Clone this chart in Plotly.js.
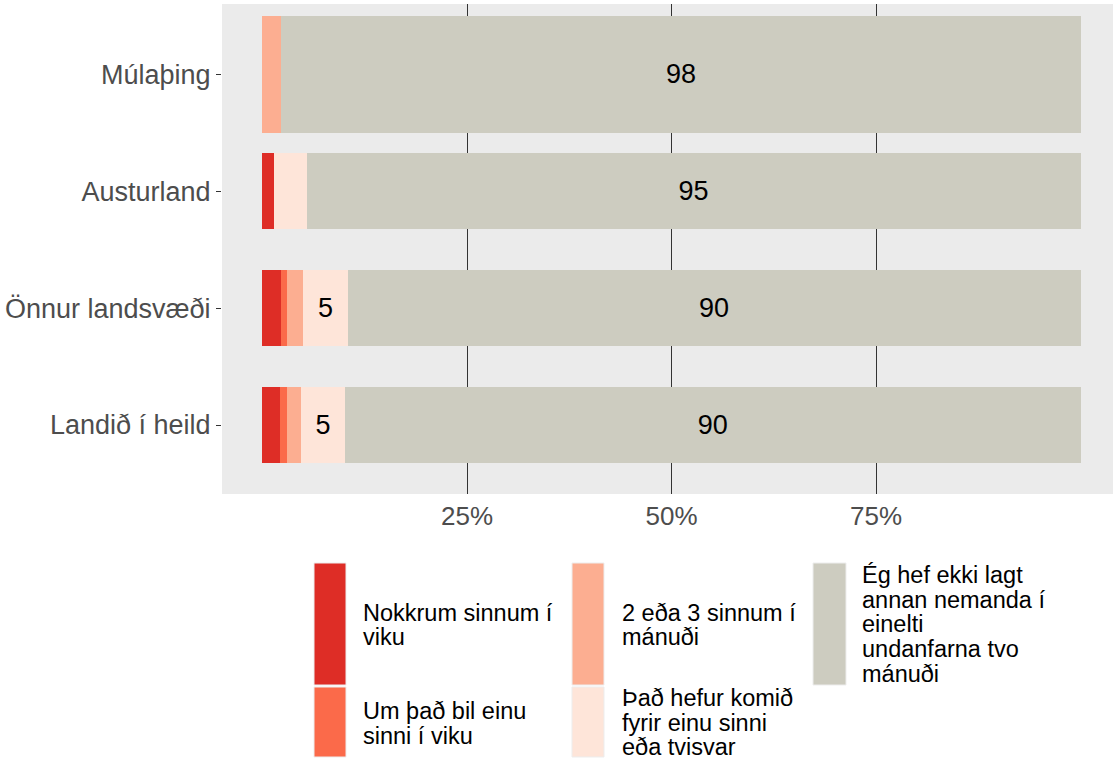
<!DOCTYPE html>
<html>
<head>
<meta charset="utf-8">
<script src="https://cdn.plot.ly/plotly-3.0.1.min.js"></script>
<style>
  html, body { margin: 0; padding: 0; background: #ffffff; }
  #chart { width: 1113px; height: 760px; }
</style>
</head>
<body>
<div id="chart"></div>
<script>
// ---- data ----
const categories = ['Múlaþing', 'Austurland', 'Önnur landsvæði', 'Landið í heild'];
const responses = [
  'Nokkrum sinnum í viku',
  'Um það bil einu sinni í viku',
  '2 eða 3 sinnum í mánuði',
  'Það hefur komið fyrir einu sinni eða tvisvar',
  'Ég hef ekki lagt annan nemanda í einelti undanfarna tvo mánuði'
];
const nokkrumSinnum = [0, 1.4, 2.3, 2.1];
const umThadBil = [0, 0, 0.7, 0.9];
const tvoEdaThrju = [2.3, 0, 2.0, 1.7];
const einuSinniTvisvar = [0, 4.0, 5.4, 5.4];
const ekkiLagt = [97.7, 94.6, 89.6, 89.9];
const xTickVals = [25, 50, 75];
const xTickText = ['25%', '50%', '75%'];
const legendLines = [
  ['Nokkrum sinnum í', 'viku'],
  ['Um það bil einu', 'sinni í viku'],
  ['2 eða 3 sinnum í', 'mánuði'],
  ['Það hefur komið', 'fyrir einu sinni', 'eða tvisvar'],
  ['Ég hef ekki lagt', 'annan nemanda í', 'einelti', 'undanfarna tvo', 'mánuði']
];

// ---- styles ----
const colors = ['#DE2D26', '#FB6A4A', '#FCAE91', '#FEE5D9', '#CDCCC0'];
const barWidths = [1.0, 0.65, 0.65, 0.65];
const FONT = 'Liberation Sans, Arial, Helvetica, sans-serif';

const series = [nokkrumSinnum, umThadBil, tvoEdaThrju, einuSinniTvisvar, ekkiLagt];

const traces = series.map((vals, i) => ({
  type: 'bar',
  orientation: 'h',
  name: responses[i],
  y: categories,
  x: vals,
  width: barWidths,
  marker: { color: colors[i], line: { width: 0 } },
  text: vals.map(v => v >= 5 ? String(Math.round(v)) : ''),
  textposition: 'inside',
  insidetextanchor: 'middle',
  textangle: 0,
  constraintext: 'none',
  textfont: { family: FONT, size: 27, color: '#000000' },
  hoverinfo: 'none',
  showlegend: false
}));

// ---- layout geometry (pixels) ----
const W = 1113, H = 760;
const mL = 222, mR = 0, mT = 4, mB = 266;
const plotW = W - mL - mR, plotH = H - mT - mB;
const px = x => (x - mL) / plotW;
const py = y => (H - mB - y) / plotH;

// legend keys: [x0, x1, y0, y1] in pixels
const keyBoxes = [
  [314, 346, 563, 685],
  [314, 346, 687, 757],
  [572, 604, 563, 685],
  [572, 604, 687, 757],
  [813, 846, 563, 685]
];
const textX = [361, 361, 620, 620, 860];
const textY = [
  [613, 637],
  [711, 736],
  [613, 637],
  [698, 723, 747],
  [575, 600, 624, 649, 674]
];

const shapes = keyBoxes.map((b, i) => ({
  type: 'rect', xref: 'paper', yref: 'paper',
  x0: px(b[0]), x1: px(b[1]), y0: py(b[3]), y1: py(b[2]),
  fillcolor: colors[i], line: { color: '#EDEDED', width: 1 }, layer: 'above'
}));

const annotations = [];
legendLines.forEach((lines, i) => {
  lines.forEach((t, j) => {
    annotations.push({
      xref: 'paper', yref: 'paper',
      x: px(textX[i]), y: py(textY[i][j]),
      xanchor: 'left', yanchor: 'middle',
      text: t, showarrow: false,
      font: { family: FONT, size: 23.5, color: '#000000' }
    });
  });
});

const layout = {
  width: W, height: H,
  margin: { l: mL, r: mR, t: mT, b: mB, pad: 0 },
  paper_bgcolor: '#FFFFFF',
  plot_bgcolor: '#EBEBEB',
  barmode: 'stack',
  bargap: 0,
  showlegend: false,
  font: { family: FONT, color: '#4D4D4D' },
  xaxis: {
    range: [-4.95, 103.97],
    tickvals: xTickVals,
    ticktext: xTickText,
    showgrid: true,
    gridcolor: '#333333',
    gridwidth: 1,
    zeroline: false,
    showline: false,
    ticks: '',
    ticklabelstandoff: 4,
    tickfont: { family: FONT, size: 26, color: '#4D4D4D' },
    fixedrange: true
  },
  yaxis: {
    type: 'category',
    categoryorder: 'array',
    categoryarray: categories.slice().reverse(),
    range: [-0.59, 3.6],
    showgrid: false,
    zeroline: false,
    showline: false,
    ticks: 'outside',
    ticklen: 5,
    tickwidth: 1,
    tickcolor: '#333333',
    tickfont: { family: FONT, size: 27, color: '#4D4D4D' },
    fixedrange: true
  },
  shapes: shapes,
  annotations: annotations
};

Plotly.newPlot('chart', traces, layout, { displayModeBar: false, staticPlot: true });
</script>
</body>
</html>
